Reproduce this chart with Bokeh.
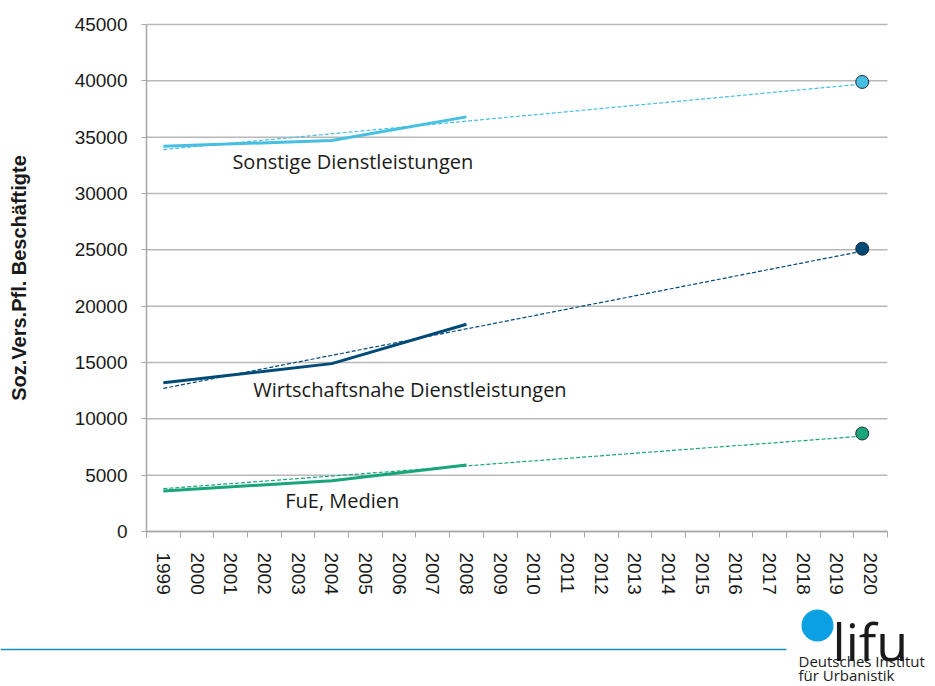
from bokeh.plotting import figure
from bokeh.models import Range1d, FixedTicker, Label, BoxAnnotation
from bokeh.embed import file_html
from bokeh.resources import INLINE

# ---- data -------------------------------------------------------------
axis_years = list(range(1999, 2021))
axis_year_bounds = [y - 0.5 for y in range(1999, 2022)]
y_ticks = list(range(0, 45001, 5000))

obs_years = [1999, 2004, 2008]
sonstige = [34200, 34700, 36800]
wirtschaft = [13200, 14900, 18400]
fue = [3600, 4500, 5900]

trend_years = [1999, 2019.7]
sonstige_trend = [33900, 39700]
wirtschaft_trend = [12700, 24850]
fue_trend = [3800, 8450]

forecast_year = [2019.75]
sonstige_2020 = [39900]
wirtschaft_2020 = [25100]
fue_2020 = [8700]

series_names = ["Sonstige Dienstleistungen", "Wirtschaftsnahe Dienstleistungen", "FuE, Medien"]
label_years = [2001.05, 2001.67, 2002.62]
label_values = [32850, 12600, 2750]

# ---- styles / geometry ------------------------------------------------
C_LIGHT = "#47bfe2"
C_NAVY = "#004a78"
C_GREEN = "#19a57a"
TXT = "#1a1a1a"
GRID = "#b8b8b8"
AX = "#a6a6a6"
TICK_FONT = "Liberation Sans"
LBL_FONT = "Open Sans"

W, H = 930, 684
FL, FT, FR, FB = 146, 24, 887, 531   # plot-area edges in canvas pixels
X0, X1, Y0, Y1 = 1998.5, 2020.5, 0, 45000

def px_x(px):
    return X0 + (px - FL) / (FR - FL) * (X1 - X0)

def px_y(py):
    return Y0 + (FB - py) / (FB - FT) * (Y1 - Y0)

# frame covers the whole canvas; axes are pinned at the plot-area edges
p = figure(width=W, height=H, output_backend="svg", toolbar_location=None,
           x_range=Range1d(px_x(0), px_x(W)), y_range=Range1d(px_y(H), px_y(0)),
           min_border=0, min_border_left=0, min_border_right=0,
           min_border_top=0, min_border_bottom=0)
p.outline_line_color = None
p.background_fill_color = "white"
p.border_fill_color = "white"
p.xgrid.visible = False
p.ygrid.visible = False

# horizontal gridlines limited to the plot area
p.segment(x0=[X0] * len(y_ticks), y0=y_ticks, x1=[X1] * len(y_ticks), y1=y_ticks,
          line_color=GRID, line_width=1.5)

p.xaxis.fixed_location = Y0
p.xaxis.bounds = (X0, X1)
p.xaxis.ticker = FixedTicker(ticks=axis_years, minor_ticks=axis_year_bounds)
p.xaxis.major_tick_out = 0
p.xaxis.major_tick_in = 0
p.xaxis.minor_tick_out = 6
p.xaxis.minor_tick_in = 0
p.xaxis.minor_tick_line_color = AX
p.xaxis.major_label_orientation = "vertical"
p.xaxis.major_label_standoff = 15

p.yaxis.fixed_location = X0
p.yaxis.bounds = (Y0, Y1)
p.yaxis.ticker = FixedTicker(ticks=y_ticks)
p.yaxis.major_tick_out = 5
p.yaxis.major_tick_in = 0
p.yaxis.minor_tick_line_color = None
p.yaxis.major_tick_line_color = AX
p.yaxis.major_label_standoff = 14
p.yaxis.axis_label = "Soz.Vers.Pfl. Beschäftigte"
p.yaxis.axis_label_text_font = TICK_FONT
p.yaxis.axis_label_text_font_style = "bold"
p.yaxis.axis_label_text_font_size = "20px"
p.yaxis.axis_label_text_color = TXT
p.yaxis.axis_label_standoff = 42

for ax in (p.xaxis, p.yaxis):
    ax.axis_line_color = AX
    ax.axis_line_width = 1.5
    ax.major_label_text_font = TICK_FONT
    ax.major_label_text_font_size = "19px"
    ax.major_label_text_color = TXT

for vals, col in ((sonstige_trend, C_LIGHT), (wirtschaft_trend, C_NAVY), (fue_trend, C_GREEN)):
    p.line(trend_years, vals, line_color=col, line_width=1.2, line_dash="4 2")

for vals, col in ((sonstige, C_LIGHT), (wirtschaft, C_NAVY), (fue, C_GREEN)):
    p.line(obs_years, vals, line_color=col, line_width=3)

for vals, col in ((sonstige_2020, C_LIGHT), (wirtschaft_2020, C_NAVY), (fue_2020, C_GREEN)):
    p.scatter(forecast_year, vals, size=13, fill_color=col, line_color="#1e2a33", line_width=1)

for name, lx, ly in zip(series_names, label_years, label_values):
    p.add_layout(Label(x=lx, y=ly, text=name, text_font=LBL_FONT, text_font_size="20px",
                       text_color=TXT, text_baseline="middle", text_align="left"))

# ---- footer: rule and difu logo ----------------------------------------
p.add_layout(BoxAnnotation(left=px_x(0), right=px_x(786), top=px_y(648.2), bottom=px_y(649.8),
                           fill_color="#1a8cbc", fill_alpha=1, line_color=None))
p.add_layout(BoxAnnotation(left=px_x(801), right=px_x(833), top=px_y(609), bottom=px_y(641),
                           fill_color="#0aa0e2", fill_alpha=1, line_color=None, border_radius=16))
p.add_layout(Label(x=px_x(832), y=px_y(640), text="lifu", text_font="Open Sans",
                   text_font_size="52px", text_color="#1a1a1a", text_baseline="alphabetic"))
p.add_layout(Label(x=px_x(798), y=px_y(660), text="Deutsches Institut", text_font="Open Sans",
                   text_font_size="15px", text_color="#1a1a1a", text_baseline="alphabetic"))
p.add_layout(Label(x=px_x(798), y=px_y(674), text="für Urbanistik", text_font="Open Sans",
                   text_font_size="15px", text_color="#1a1a1a", text_baseline="alphabetic"))

open("out.html", "w").write(file_html(p, INLINE))
